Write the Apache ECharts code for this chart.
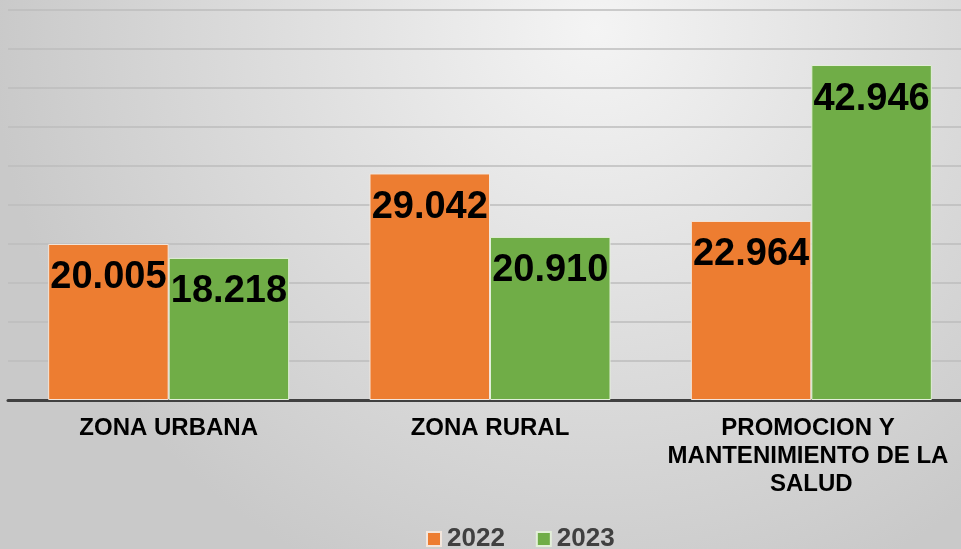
<!DOCTYPE html>
<html>
<head>
<meta charset="utf-8">
<script src="https://cdn.jsdelivr.net/npm/echarts@6/dist/echarts.min.js"></script>
<style>
html,body{margin:0;padding:0;}
#c{width:961px;height:549px;}
</style>
</head>
<body>
<div id="c"></div>
<script>
const categories = ['ZONA URBANA', 'ZONA RURAL', 'PROMOCION Y MANTENIMIENTO DE LA SALUD'];
const seriesNames = ['2022', '2023'];
const values2022 = [20005, 29042, 22964];
const values2023 = [18218, 20910, 42946];

const fmt = v => String(v).replace(/\B(?=(\d{3})+(?!\d))/g, '.');
const FONT = '"Liberation Sans", Arial, sans-serif';

const chart = echarts.init(document.getElementById('c'), null, {renderer: 'canvas'});
const labelCfg = {
  show: true,
  position: 'insideTop',
  distance: 15,
  color: '#000',
  fontSize: 38,
  fontWeight: 'bold',
  fontFamily: FONT,
  formatter: p => fmt(p.value)
};
chart.setOption({
  backgroundColor: {
    type: 'radial', x: 0.62, y: 0.05, r: 1.1,
    colorStops: [{offset: 0, color: '#f4f4f4'}, {offset: 1, color: '#c9c9c9'}]
  },
  animation: false,
  grid: {left: 8, width: 964, top: 10, height: 390, containLabel: false, outerBoundsMode: 'none'},
  legend: {
    data: seriesNames,
    top: 521,
    left: 421,
    itemWidth: 14,
    itemHeight: 14,
    itemGap: 31,
    icon: 'rect',
    textStyle: {color: '#404040', fontSize: 26, fontWeight: 'bold', fontFamily: FONT, padding: [0, 0, 0, 1]}
  },
  xAxis: {
    type: 'category',
    data: categories,
    axisTick: {show: false},
    axisLine: {lineStyle: {color: '#404040', width: 3}},
    axisLabel: {
      color: '#000', fontSize: 24, fontWeight: 'bold', fontFamily: FONT,
      margin: 14, lineHeight: 28, width: 300, overflow: 'break', interval: 0, align: 'center'
    }
  },
  yAxis: {
    type: 'value', min: 0, max: 50000, interval: 5000,
    axisLabel: {show: false},
    axisLine: {show: false},
    axisTick: {show: false},
    splitLine: {lineStyle: {color: '#bdbdbd', width: 1.5}}
  },
  series: [
    {name: seriesNames[0], type: 'bar', data: values2022, barGap: '0%', barCategoryGap: '25%',
     itemStyle: {color: '#ED7D31', borderColor: '#f3e6dc', borderWidth: 1}, label: labelCfg},
    {name: seriesNames[1], type: 'bar', data: values2023,
     itemStyle: {color: '#70AD47', borderColor: '#e3efd9', borderWidth: 1}, label: labelCfg}
  ]
});
</script>
</body>
</html>
